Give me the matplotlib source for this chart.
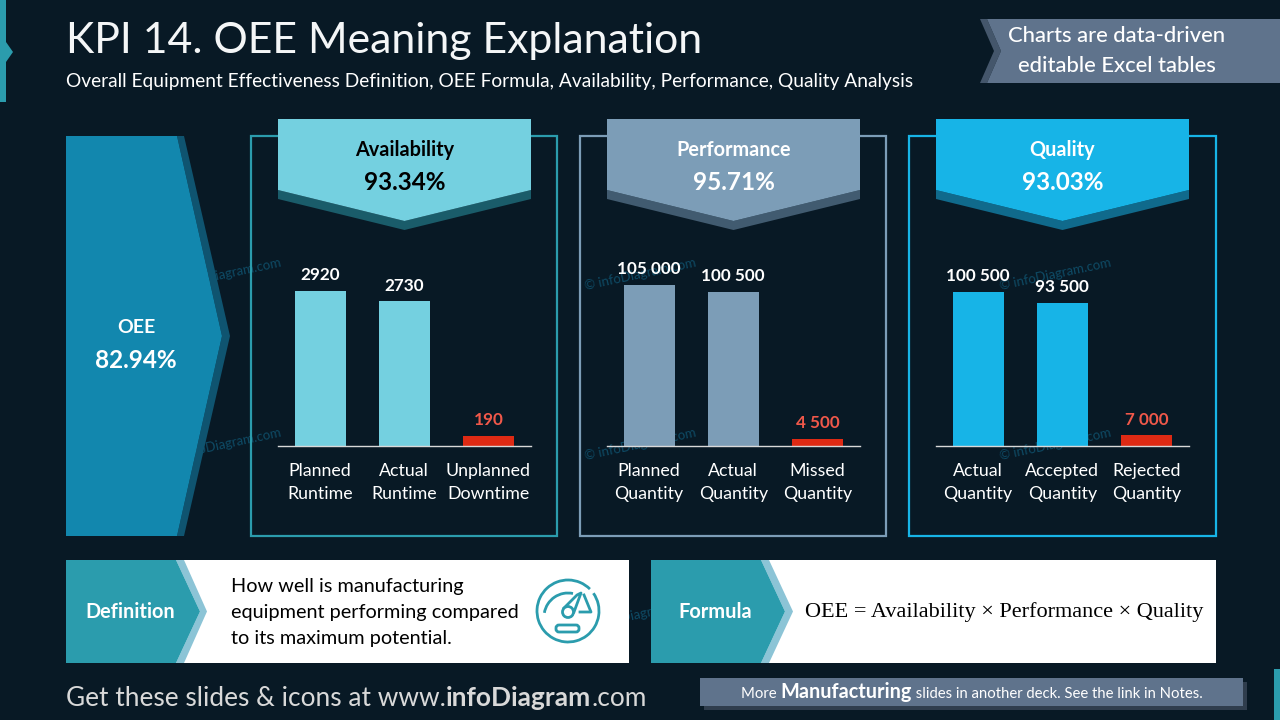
import matplotlib
matplotlib.use("Agg")
import matplotlib.pyplot as plt
from matplotlib.patches import Rectangle, Polygon, Circle, Arc, FancyBboxPatch

plt.rcParams["font.family"] = ["Lato", "DejaVu Sans"]

# valores dos tres paineis
avail_names = ["Planned\nRuntime", "Actual\nRuntime", "Unplanned\nDowntime"]
avail_values = [2920, 2730, 190]
perf_names = ["Planned\nQuantity", "Actual\nQuantity", "Missed\nQuantity"]
perf_values = [105000, 100500, 4500]
qual_names = ["Actual\nQuantity", "Accepted\nQuantity", "Rejected\nQuantity"]
qual_values = [100500, 93500, 7000]

avail_pct = "93.34%"
perf_pct = "95.71%"
qual_pct = "93.03%"
oee_pct = "82.94%"

BG = "#081925"
TEAL = "#2B9CAD"
RED = "#DE2A14"

fig = plt.figure(figsize=(12.8, 7.2), dpi=100, facecolor=BG)

# eixo de fundo em pixels, y para baixo
bg = fig.add_axes([0, 0, 1, 1])
bg.set_xlim(0, 1280)
bg.set_ylim(720, 0)
bg.axis("off")


def poly(points, color, z=2):
    bg.add_patch(Polygon(points, closed=True, facecolor=color, edgecolor="none", zorder=z))


def rect(x0, y0, x1, y1, color, z=2):
    bg.add_patch(Rectangle((x0, y0), x1 - x0, y1 - y0, facecolor=color, edgecolor="none", zorder=z))


def label(x, y, s, size, color="white", weight="normal", ha="center", **kw):
    # va=center fica um pouco alto por causa da descida da fonte
    return bg.text(x, y + 1.5, s, fontsize=size, color=color, fontweight=weight, ha=ha, va="center", zorder=6, **kw)


def chain(x, y, parts, color):
    # textos em sequencia na mesma linha, cada um com o seu tamanho
    r = fig.canvas.get_renderer()
    for s, size, weight in parts:
        t = bg.text(x, y, s, fontsize=size, color=color, fontweight=weight, ha="left", va="baseline", zorder=6)
        x = bg.transData.inverted().transform(t.get_window_extent(r))[1][0]


# marca de agua, fica atras de tudo
for wx in [225, 640, 1055]:
    for wy in [274, 444, 614]:
        bg.text(wx, wy, "© infoDiagram.com", fontsize=9.5, color="#0E4A64", rotation=12,
                ha="center", va="center", rotation_mode="anchor", zorder=1)

# cabecalho
rect(0, 0, 6, 102, TEAL)
poly([(6, 42), (13, 52), (6, 62)], TEAL)
rect(1274, 669, 1280, 720, TEAL)
label(66, 39, "KPI 14. OEE Meaning Explanation", 30.8, ha="left", color="#F4F6F7")
label(66, 80, "Overall Equipment Effectiveness Definition, OEE Formula, Availability, Performance, Quality Analysis",
      13.75, ha="left")

poly([(980, 19), (987, 19), (1001, 51), (987, 83), (980, 83), (994, 51)], "#44566B")
poly([(987, 19), (1280, 19), (1280, 83), (987, 83), (1001, 51)], "#5F738C")
label(1117, 35, "Charts are data-driven", 15.8, weight="medium")
label(1117, 64, "editable Excel tables", 15.8, weight="medium")

# seta do OEE
poly([(177, 136), (184, 136), (230, 336), (184, 536), (177, 536), (222, 336)], "#0F5470")
poly([(66, 136), (177, 136), (222, 336), (177, 536), (66, 536)], "#1287AE")
label(136, 326, "OEE", 14, weight="bold")
label(136, 359, oee_pct, 17.5, weight="bold")

panels = [
    (251, 557, "Availability", avail_pct, avail_names, avail_values, 3770, False,
     TEAL, "#74D0E0", "#1A5C6A", "black"),
    (580, 886, "Performance", perf_pct, perf_names, perf_values, 130500, True,
     "#7C9DB7", "#7C9DB7", "#415B70", "white"),
    (909, 1216, "Quality", qual_pct, qual_names, qual_values, 130500, True,
     "#17B4E7", "#17B4E7", "#106A8C", "white"),
]

for x0, x1, title, pct, names, values, ymax, spaced, edge, fill, dark, txt in panels:
    bg.add_patch(Rectangle((x0, 136), x1 - x0, 400, facecolor="none", edgecolor=edge, linewidth=1.6, zorder=2))

    left = x0 + 27
    right = left + 253
    mid = (left + right) / 2
    poly([(left, 190), (mid, 221), (right, 190), (right, 199), (mid, 230), (left, 199)], dark, z=3)
    poly([(left, 119), (right, 119), (right, 190), (mid, 221), (left, 190)], fill, z=3)
    label(mid, 148, title, 14.3, color=txt, weight="bold")
    label(mid, 181, pct, 17.5, color=txt, weight="bold")

    # barras num eixo proprio com a linha de base em y=446
    ax = fig.add_axes([left / 1280, (720 - 446) / 720, 252.5 / 1280, 200 / 720])
    ax.patch.set_visible(False)
    ax.set_zorder(3)
    bars = ax.bar(range(3), values, width=0.605, color=[fill, fill, RED])
    ax.set_xlim(-0.5, 2.5)
    ax.set_ylim(0, ymax)
    ax.set_yticks([])
    ax.set_xticks(range(3))
    ax.set_xticklabels(names, fontsize=12.8, color="white", linespacing=1.53)
    ax.tick_params(axis="x", length=0, pad=12)
    for s in ["top", "left", "right"]:
        ax.spines[s].set_visible(False)
    ax.spines["bottom"].set_color("#D9D9D9")
    ax.spines["bottom"].set_linewidth(1)

    texts = [f"{v:,}".replace(",", " ") if spaced else str(v) for v in values]
    labs = ax.bar_label(bars, labels=texts, padding=5.5, fontsize=12.3, fontweight="bold", color="white")
    labs[2].set_color("#F0584A")

# caixas de baixo
rect(176, 560, 629, 663, "white")
poly([(176, 560), (184, 560), (207, 611.5), (184, 663), (176, 663), (200, 611.5)], "#8CC4D6", z=3)
poly([(66, 560), (176, 560), (200, 611.5), (176, 663), (66, 663)], TEAL, z=3)
label(130, 611, "Definition", 14.3, weight="bold")
for yy, line in zip([585, 611, 637], ["How well is manufacturing", "equipment performing compared", "to its maximum potential."]):
    label(231, yy, line, 14.35, color="black", ha="left")

rect(761, 560, 1216, 663, "white")
poly([(761, 560), (769, 560), (793, 611.5), (769, 663), (761, 663), (785, 611.5)], "#8CC4D6", z=3)
poly([(651, 560), (761, 560), (785, 611.5), (761, 663), (651, 663)], TEAL, z=3)
label(715.5, 611, "Formula", 14.4, weight="bold")
bg.text(805, 612, "OEE = Availability × Performance × Quality", fontsize=16, color="black",
        family="Liberation Serif", ha="left", va="center", zorder=6)

# icone do velocimetro
bg.add_patch(Arc((568, 611), 62, 62, theta1=-35, theta2=315, color=TEAL, linewidth=2, zorder=5))
bg.add_patch(Arc((568, 617), 48, 48, theta1=190, theta2=282, color=TEAL, linewidth=2, zorder=5))
bg.plot([584, 591, 580], [595, 612, 612], color=TEAL, linewidth=2, zorder=5)
bg.plot([564, 577, 581, 574], [608, 595, 593, 612], color=TEAL, linewidth=2, zorder=5)
bg.add_patch(Circle((568, 612), 5.5, facecolor="white", edgecolor=TEAL, linewidth=2, zorder=5))
bg.add_patch(FancyBboxPatch((556, 625), 23, 7, boxstyle="round,pad=0,rounding_size=3", facecolor="white",
                            edgecolor=TEAL, linewidth=2, zorder=5))

# rodape
chain(66, 706, [("Get these slides & icons at www.", 18.95, "normal"), ("infoDiagram", 18.95, "bold"), (".com", 18.95, "normal")], "#D9D9D9")
rect(704, 682, 1247, 710, "#2F3D4D")
rect(700, 678, 1243, 706, "#5F738C", z=3)
chain(741, 698, [("More ", 10.7, "normal"), ("Manufacturing", 14.3, "bold"), (" slides in another deck. See the link in Notes.", 10.7, "normal")], "white")

fig.savefig("out.png", dpi=100, facecolor=BG)
